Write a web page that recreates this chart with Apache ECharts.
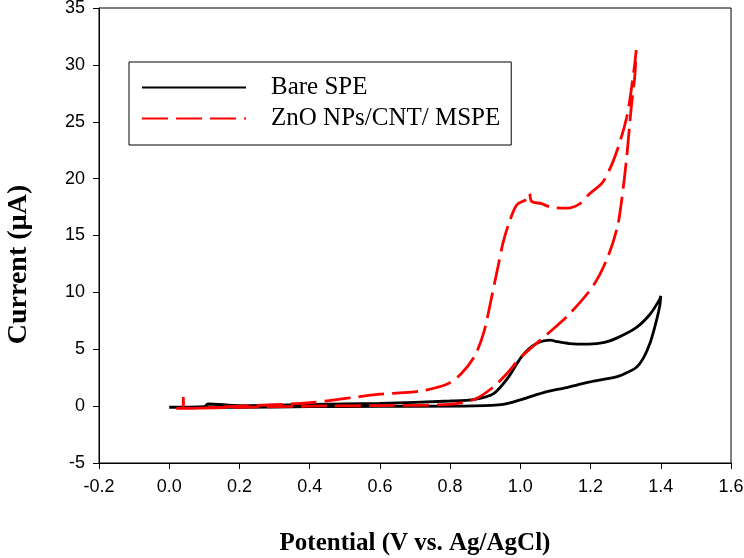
<!DOCTYPE html>
<html>
<head>
<meta charset="utf-8">
<script src="https://cdn.jsdelivr.net/npm/echarts@6/dist/echarts.min.js"></script>
<style>
  html, body { margin: 0; padding: 0; background: #fff; }
  #main { width: 744px; height: 558px; }
</style>
</head>
<body>
<div id="main"></div>
<script>
// Bare SPE: forward scan then reverse
var bareX = [0.0, 0.1, 0.11, 0.2, 0.4, 0.6, 0.8, 0.87, 0.924, 0.965, 1.005, 1.046, 1.087, 1.1, 1.14, 1.195, 1.24, 1.276, 1.33, 1.37, 1.397,
  1.40, 1.397, 1.385, 1.37, 1.35, 1.33, 1.3, 1.276, 1.195, 1.127, 1.073, 1.005, 0.951, 0.87, 0.6, 0.4, 0.2, 0.0];
var bareY = [-0.1, -0.05, 0.2, 0.05, 0.15, 0.25, 0.45, 0.6, 1.1, 2.5, 4.4, 5.5, 5.8, 5.7, 5.5, 5.45, 5.6, 6.0, 6.9, 8.1, 9.4,
  9.7, 8.8, 7.2, 5.6, 4.2, 3.4, 2.9, 2.6, 2.1, 1.6, 1.25, 0.6, 0.15, 0.02, -0.02, -0.05, -0.1, -0.1];

// ZnO NPs/CNT/ MSPE
var znoX = [0.02, 0.04, 0.04, 0.045, 0.2, 0.4, 0.6, 0.708, 0.789, 0.83, 0.87, 0.897, 0.917, 0.938, 0.951, 0.97, 0.99, 1.019, 1.026, 1.032, 1.06, 1.086, 1.134, 1.17, 1.195, 1.235, 1.269, 1.303, 1.323, 1.33,
  1.326, 1.316, 1.303, 1.289, 1.276, 1.249, 1.208, 1.14, 1.087, 1.005, 0.96, 0.924, 0.87, 0.8, 0.6, 0.4, 0.2, 0.04];
var znoY = [-0.2, -0.2, 0.8, -0.2, 0.0, 0.3, 1.05, 1.3, 1.9, 2.8, 4.4, 6.6, 9.4, 12.5, 14.4, 16.3, 17.7, 18.2, 18.7, 18.0, 17.8, 17.5, 17.4, 17.8, 18.6, 19.7, 21.9, 25.4, 29.4, 31.3,
  29.0, 26.3, 21.9, 18.2, 15.7, 13.1, 10.6, 8.1, 6.6, 4.4, 2.8, 1.7, 0.6, 0.15, 0.05, 0.0, -0.1, -0.2];

var xTicks = [-0.2, 1.6, 0.2];
var yTicks = [-5, 35, 5];

function pairs(xs, ys) {
  return xs.map(function (x, i) { return [x, ys[i]]; });
}

var chart = echarts.init(document.getElementById('main'));

var option = {
  animation: false,
  grid: { left: 99, right: 13, top: 8, bottom: 95, outerBoundsMode: 'none', containLabel: false,
    show: true, borderColor: '#000', borderWidth: 1 },
  legend: {
    orient: 'vertical',
    left: 129,
    top: 62,
    borderColor: '#000',
    borderWidth: 1,
    padding: [13, 11, 14, 12],
    itemWidth: 104,
    itemHeight: 14,
    itemGap: 6,
    itemStyle: { opacity: 0 },
    textStyle: { fontFamily: 'Liberation Serif', fontSize: 25, lineHeight: 25, color: '#000', padding: [0, 0, 0, 20] },
    data: ['Bare SPE', 'ZnO NPs/CNT/ MSPE']
  },
  xAxis: {
    type: 'value',
    min: xTicks[0], max: xTicks[1], interval: xTicks[2],
    name: 'Potential (V vs. Ag/AgCl)',
    nameLocation: 'middle',
    nameGap: 68,
    nameTextStyle: { fontFamily: 'Liberation Serif', fontWeight: 'bold', fontSize: 25, color: '#000' },
    axisLine: { onZero: false, lineStyle: { color: '#000' } },
    axisTick: { inside: false, length: 6, lineStyle: { color: '#000' } },
    axisLabel: { fontFamily: 'Liberation Sans', fontSize: 18, color: '#000', margin: 15,
      formatter: function (v) { return v.toFixed(1); } },
    splitLine: { show: false }
  },
  yAxis: {
    type: 'value',
    min: yTicks[0], max: yTicks[1], interval: yTicks[2],
    name: 'Current (µA)',
    nameLocation: 'middle',
    nameGap: 66,
    nameTextStyle: { fontFamily: 'Liberation Serif', fontWeight: 'bold', fontSize: 28, color: '#000', padding: [0, 58, 0, 0] },
    axisLine: { onZero: false, lineStyle: { color: '#000' } },
    axisTick: { inside: false, length: 6, lineStyle: { color: '#000' } },
    axisLabel: { fontFamily: 'Liberation Sans', fontSize: 18, color: '#000', margin: 14 },
    splitLine: { show: false }
  },
  series: [
    {
      name: 'Bare SPE',
      type: 'line',
      data: pairs(bareX, bareY),
      showSymbol: false,
      symbol: 'none',
      smooth: 0.3,
      color: '#000',
      lineStyle: { color: '#000', width: 2.8 }
    },
    {
      name: 'ZnO NPs/CNT/ MSPE',
      type: 'line',
      data: pairs(znoX, znoY),
      showSymbol: false,
      symbol: 'none',
      smooth: 0.3,
      color: '#ff0000',
      lineStyle: { color: '#ff0000', width: 2.8, type: [26, 8] }
    }
  ]
};

chart.setOption(option);
</script>
</body>
</html>
